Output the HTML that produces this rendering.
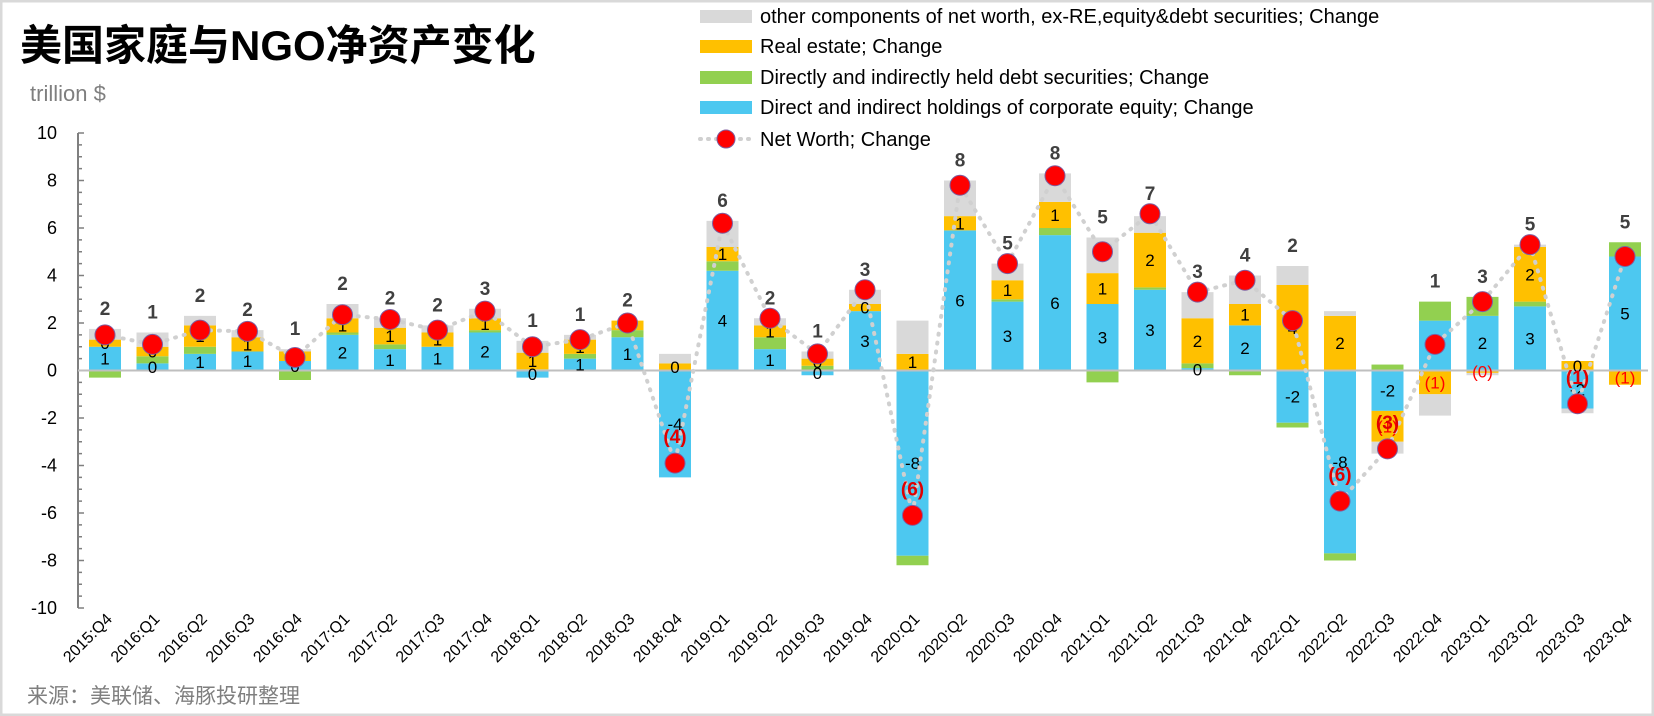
<!DOCTYPE html>
<html><head><meta charset="utf-8"><style>
html,body{margin:0;padding:0;background:#fff}
svg{display:block}
text{font-family:"Liberation Sans","Noto Sans CJK SC",sans-serif}
</style></head><body>
<svg id="c" width="1654" height="716" xmlns="http://www.w3.org/2000/svg">
<rect x="1" y="1" width="1652" height="714" fill="#fff" stroke="#d9d9d9" stroke-width="3"/>
<text x="20" y="60" font-size="42" font-weight="bold" fill="#000">美国家庭与NGO净资产变化</text>
<text x="30" y="101" font-size="22" fill="#7f7f7f">trillion $</text>
<text x="27" y="703" font-size="21" fill="#7f7f7f">来源：美联储、海豚投研整理</text>
<g id="legend">
<rect x="700" y="10" width="52" height="13" fill="#d9d9d9"/>
<text x="760" y="23" font-size="20" fill="#000">other components of net worth, ex-RE,equity&amp;debt securities; Change</text>
<rect x="700" y="40" width="52" height="13" fill="#ffc000"/>
<text x="760" y="53" font-size="20" fill="#000">Real estate; Change</text>
<rect x="700" y="71" width="52" height="13" fill="#92d050"/>
<text x="760" y="84" font-size="20" fill="#000">Directly and indirectly held debt securities; Change</text>
<rect x="700" y="101" width="52" height="13" fill="#4dc8f0"/>
<text x="760" y="114" font-size="20" fill="#000">Direct and indirect holdings of corporate equity; Change</text>
<line x1="700" y1="139" x2="752" y2="139" stroke="#d0d0d0" stroke-width="4" stroke-dasharray="1 7" stroke-linecap="round"/>
<circle cx="726" cy="139" r="9" fill="#ff0000" stroke="#7f5fa0" stroke-width="1"/>
<text x="760" y="146" font-size="20" fill="#000">Net Worth; Change</text>
</g>
<g id="plot"></g>
</svg>
<script>
const categories=["2015:Q4","2016:Q1","2016:Q2","2016:Q3","2016:Q4","2017:Q1","2017:Q2","2017:Q3","2017:Q4","2018:Q1","2018:Q2","2018:Q3","2018:Q4","2019:Q1","2019:Q2","2019:Q3","2019:Q4","2020:Q1","2020:Q2","2020:Q3","2020:Q4","2021:Q1","2021:Q2","2021:Q3","2021:Q4","2022:Q1","2022:Q2","2022:Q3","2022:Q4","2023:Q1","2023:Q2","2023:Q3","2023:Q4"];
const equity=[1.0,0.3,0.7,0.8,0.4,1.5,0.9,1.0,1.6,-0.3,0.5,1.4,-4.5,4.2,0.9,-0.2,2.5,-7.8,5.9,2.9,5.7,2.8,3.4,0.1,1.9,-2.2,-7.7,-1.7,2.1,2.3,2.7,-1.6,4.8];
const debt=[-0.3,0.3,0.3,0.0,-0.4,0.1,0.2,0.0,0.1,0.05,0.2,0.3,0.0,0.4,0.5,0.2,0.0,-0.4,0.0,0.1,0.3,-0.5,0.1,0.2,-0.2,-0.2,-0.3,0.25,0.8,0.8,0.2,0.0,0.6];
const realEstate=[0.3,0.4,0.9,0.6,0.4,0.6,0.7,0.6,0.5,0.7,0.6,0.4,0.3,0.6,0.5,0.3,0.3,0.7,0.6,0.8,1.1,1.3,2.3,1.9,0.9,3.6,2.3,-1.3,-1.0,-0.1,2.3,0.4,-0.6];
const other=[0.45,0.6,0.4,0.3,0.1,0.6,0.4,0.3,0.4,0.5,0.2,0.0,0.4,1.1,0.3,0.3,0.6,1.4,1.5,0.7,1.2,1.5,0.7,1.1,1.2,0.8,0.2,-0.5,-0.9,-0.1,0.1,-0.2,0.0];
const netWorth=[1.5,1.1,1.7,1.65,0.55,2.35,2.15,1.7,2.5,1.0,1.3,2.0,-3.9,6.2,2.2,0.7,3.4,-6.1,7.8,4.5,8.2,5.0,6.6,3.3,3.8,2.1,-5.5,-3.3,1.1,2.9,5.3,-1.4,4.8];
const yTicks=[10,8,6,4,2,0,-2,-4,-6,-8,-10];

const NS="http://www.w3.org/2000/svg";
const plot=document.getElementById('plot');
const X0=81.25,BAND=47.5,BW=32,Y0=370.5,UNIT=23.75;
const xs=i=>X0+BAND*(i+0.5);
const ys=v=>Y0-v*UNIT;
function mk(tag,attrs,parent){const e=document.createElementNS(NS,tag);for(const k in attrs)e.setAttribute(k,attrs[k]);(parent||plot).appendChild(e);return e;}

const ax=mk('line',{x1:78,y1:ys(10),x2:78,y2:ys(-10),stroke:'#7f7f7f','stroke-width':2});


for(let v=-10;v<=10;v+=0.5){
  const t=mk('line',{x1:78,y1:ys(v),x2:(v%2===0?84:82),y2:ys(v),stroke:'#7f7f7f','stroke-width':1.5});
  
  
}
yTicks.forEach(v=>{
  const t=mk('text',{x:57,y:ys(v)+6,'text-anchor':'end','font-size':18,fill:'#000'});
  t.textContent=v;
  
  
});

const series=[[equity,'#4dc8f0','equity'],[debt,'#92d050','debt'],[realEstate,'#ffc000','real-estate'],[other,'#d9d9d9','other']];
const segs=[];
categories.forEach((c,i)=>{
  let pos=0,neg=0;segs[i]={};
  series.forEach(([arr,col,nm])=>{
    const v=arr[i];let a,b;
    if(v>=0){a=pos;b=pos+v;pos=b;}else{a=neg;b=neg+v;neg=b;}
    const r=mk('rect',{x:xs(i)-BW/2,y:Math.min(ys(a),ys(b)),width:BW,height:Math.abs(ys(a)-ys(b)),fill:col});
    
    
    segs[i][nm]=(a+b)/2;
  });
  segs[i].top=pos;
});
const zl=mk('line',{x1:78,y1:Y0,x2:1648,y2:Y0,stroke:'#bfbfbf','stroke-width':2});



categories.forEach((c,i)=>{
  const ev=Math.round(equity[i]);
  const t=mk('text',{x:xs(i),y:ys(segs[i].equity)+6,'text-anchor':'middle','font-size':17,fill:'#000'});
  t.textContent=ev;
  
  
  const rv=realEstate[i];const rr=Math.round(Math.abs(rv));
  const t2=mk('text',{x:xs(i),y:ys(segs[i]['real-estate'])+6,'text-anchor':'middle','font-size':17,fill:rv<0?'#ff0000':'#000'});
  t2.textContent=rv<0?'('+rr+')':rr;
  
  
});

const pts=netWorth.map((v,i)=>xs(i)+','+ys(v)).join(' ');
const pl=mk('polyline',{points:pts,fill:'none',stroke:'#d0d0d0','stroke-width':4,'stroke-dasharray':'1 8','stroke-linecap':'round'});


netWorth.forEach((v,i)=>{
  const d=mk('circle',{cx:xs(i),cy:ys(v),r:10,fill:'#ff0000',stroke:'#7f5fa0','stroke-width':1});
  
  
  const r=Math.round(Math.abs(v));
  let t;
  if(v>=0){
    const top=Math.max(v,segs[i].top);
    t=mk('text',{x:xs(i),y:ys(top)-14,'text-anchor':'middle','font-size':19,'font-weight':'bold',fill:'#404040'});
    t.textContent=r;
  }else{
    t=mk('text',{x:xs(i),y:ys(v)-20,'text-anchor':'middle','font-size':19,'font-weight':'bold',fill:'#e00000'});
    t.textContent='('+r+')';
  }
  
  
});

categories.forEach((c,i)=>{
  const x=xs(i)+8,y=620;
  const t=mk('text',{x:x,y:y,'text-anchor':'end','font-size':16,fill:'#000',transform:`rotate(-45 ${x} ${y})`});
  t.textContent=c;
  
  
});
</script>
</body></html>
